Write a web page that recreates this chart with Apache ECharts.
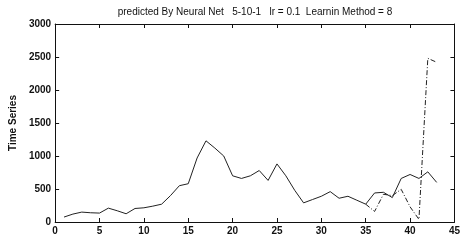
<!DOCTYPE html>
<html>
<head>
<meta charset="utf-8">
<script src="https://cdn.jsdelivr.net/npm/echarts@6/dist/echarts.min.js"></script>
<style>
  html, body { margin: 0; padding: 0; background: #fff; }
  #chart { width: 463px; height: 246px; }
</style>
</head>
<body>
<div id="chart"></div>
<script>
// series values, t = 1..43
var actual = [75, 120, 150, 140, 135, 210, 170, 125, 205, 215,
              240, 270, 400, 550, 580, 970, 1230, 1120, 1000, 700,
              660, 700, 780, 630, 880, 700, 480, 290, 340, 390,
              460, 360, 390, 330, 270, 440, 450, 370, 660, 720,
              660, 760, 600];
// predicted part, starts at t = 35
var predStart = 35;
var predicted = [270, 160, 420, 400, 495, 230, 40, 2480, 2420];

var xTicks = [0, 5, 10, 15, 20, 25, 30, 35, 40, 45];
var yTicks = [0, 500, 1000, 1500, 2000, 2500, 3000];

var actualData = [];
for (var i = 0; i < actual.length; i++) {
  actualData.push([i + 1, actual[i]]);
}
var predData = [];
for (var j = 0; j < predicted.length; j++) {
  predData.push([predStart + j, predicted[j]]);
}

var labelFont = {
  color: '#111',
  fontFamily: 'Liberation Sans Narrow, Liberation Sans, Arial',
  fontWeight: 'bold',
  fontSize: 10
};
var axisLine = { show: true, onZero: false, lineStyle: { color: '#111', width: 1 } };
var tick = { show: true, inside: true, length: 4, lineStyle: { color: '#111' } };
function plain(v) { return String(v); }

var myChart = echarts.init(document.getElementById('chart'));
var option = {
  animation: false,
  backgroundColor: '#fff',
  title: {
    text: 'predicted By Neural Net   5-10-1   lr = 0.1  Learnin Method = 8',
    left: 250,
    textAlign: 'center',
    top: 2,
    textStyle: {
      color: '#111',
      fontFamily: 'Liberation Sans Narrow, Liberation Sans, Arial',
      fontWeight: 'normal',
      fontSize: 10
    }
  },
  grid: { left: 41, right: 8, top: 24, bottom: 24 },
  xAxis: [
    {
      type: 'value', min: xTicks[0], max: xTicks[xTicks.length - 1], interval: 5,
      axisLine: axisLine, axisTick: tick, splitLine: { show: false },
      axisLabel: Object.assign({ margin: 4, formatter: plain }, labelFont)
    },
    {
      type: 'value', position: 'top', min: 0, max: 45, interval: 5,
      axisLine: axisLine, axisTick: tick, splitLine: { show: false },
      axisLabel: { show: false }
    }
  ],
  yAxis: [
    {
      type: 'value', min: yTicks[0], max: yTicks[yTicks.length - 1], interval: 500,
      name: 'Time Series', nameLocation: 'middle', nameGap: 31,
      nameTextStyle: labelFont,
      axisLine: axisLine, axisTick: tick, splitLine: { show: false },
      axisLabel: Object.assign({ margin: 4, formatter: plain }, labelFont)
    },
    {
      type: 'value', position: 'right', min: 0, max: 3000, interval: 500,
      axisLine: axisLine, axisTick: tick, splitLine: { show: false },
      axisLabel: { show: false }
    }
  ],
  series: [
    {
      name: 'actual',
      type: 'line',
      data: actualData,
      symbol: 'none',
      lineStyle: { color: '#222', width: 1 }
    },
    {
      name: 'predicted',
      type: 'line',
      data: predData,
      symbol: 'none',
      lineStyle: { color: '#222', width: 1, type: [5, 2, 1, 2] }
    }
  ]
};
myChart.setOption(option);
</script>
</body>
</html>
